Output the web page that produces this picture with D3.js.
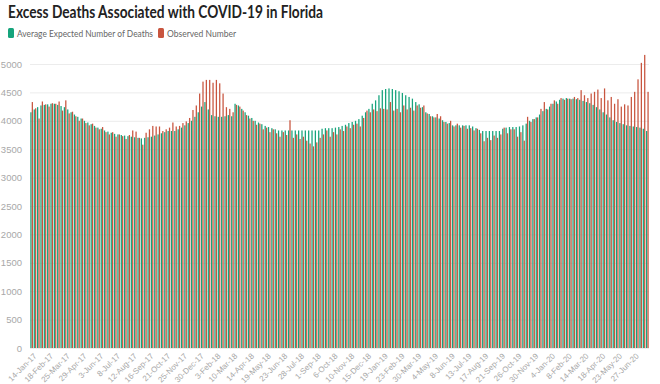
<!DOCTYPE html>
<html>
<head>
<meta charset="utf-8">
<script src="https://cdn.jsdelivr.net/npm/d3@7"></script>
<style>
  body { margin: 0; background: #fff; font-family: Lato, "Open Sans", sans-serif; }
  .axis text { fill: #a8a8a8; }
</style>
</head>
<body>
<svg id="chart" width="660" height="384"></svg>
<script>
// weekly counts, Florida, week ending 14-Jan-17 onwards
var startWeek = "2017-01-14";

var expected = [
  4150, 4200, 4240, 4270, 4280, 4290, 4300, 4300, 4280, 4260, 4240,
  4200, 4150, 4110, 4070, 4040, 4000, 3970, 3940, 3910, 3880, 3860, 3830, 3810, 3790, 3770, 3760, 3750, 3740, 3730, 3720,
  3710, 3700, 3690, 3700, 3710, 3720, 3740, 3760, 3780, 3800, 3820, 3820, 3820, 3850, 3880, 3920, 3960, 4000, 4070, 4150,
  4250, 4330, 4200, 4100, 4080, 4070, 4070, 4080, 4100,
  4080, 4300, 4270, 4210, 4150, 4090, 4050, 4000, 3970, 3940, 3910, 3890, 3870, 3850, 3830, 3830, 3830, 3830, 3830, 3830,
  3830, 3830, 3830, 3830, 3830, 3830, 3830,
  3860, 3870, 3870, 3870, 3880, 3890, 3910, 3930, 3960, 3980, 4000, 4030, 4090, 4150,
  4210, 4300, 4360, 4450, 4540, 4560, 4570, 4560, 4540, 4520, 4490, 4450, 4420, 4390, 4330, 4290, 4240, 4150, 4120,
  4080, 4060, 4040, 4010, 3980, 3960, 3920, 3920, 3920, 3920, 3920, 3920, 3900, 3870, 3840, 3820, 3820, 3820, 3820, 3820, 3820,
  3860, 3880, 3890, 3890, 3890, 3900, 3920, 3950, 4000, 4030, 4060, 4110, 4170, 4210, 4250, 4300, 4340, 4370, 4390, 4400,
  4390, 4390, 4380, 4370, 4350, 4330, 4310, 4280, 4240, 4200, 4150, 4110, 4060, 4010, 3980, 3960, 3940, 3920, 3910, 3900,
  3890, 3880, 3860, 3820
];

var observed = [
  4330, 4220, 4040, 4340, 4290, 4250, 4310, 4300, 4340, 4180, 4360,
  4130, 4160, 4080, 4000, 4040, 3960, 3920, 3950, 3880, 3850, 3890, 3800, 3760, 3800, 3720, 3760, 3730, 3680, 3750, 3830,
  3810, 3700, 3580, 3790, 3850, 3910, 3900, 3900, 3820, 3850, 3880, 3970, 3900, 3910, 3960, 3990, 4050, 4190, 4270, 4480,
  4690, 4720, 4720, 4670, 4720, 4660, 4480, 4240, 4210,
  4150, 4280, 4250, 4180, 4100, 4040, 4000, 3930, 3950, 3850, 3880, 3800, 3850, 3780, 3720, 3800, 3750, 4010, 3700, 3760,
  3680, 3720, 3650, 3600, 3550, 3620, 3700,
  3760, 3830, 3720, 3800, 3760, 3850, 3820, 3900, 3870, 3930, 3950, 3900, 4050, 4180,
  4150, 4200, 4170, 4220, 4210, 4200, 4330, 4180, 4210, 4150, 4270, 4200, 4230, 4180, 4270, 4230, 4270, 4130, 4080,
  4060, 4120, 4080, 3980, 3950, 4000, 3900, 3950, 3880, 3910, 3860, 3870, 3830, 3860, 3780, 3640, 3700, 3660, 3740, 3700, 3760,
  3880, 3780, 3850, 3850, 3720, 3800, 3650, 4070, 3980, 4030, 4060, 4210, 4330, 4200, 4300, 4360, 4300, 4400, 4370, 4390,
  4380, 4420, 4400, 4540, 4450, 4400, 4480, 4510, 4550, 4400, 4570, 4360, 4420, 4300, 4380, 4250, 4290, 4270, 4420, 4510,
  4730, 5020, 5160, 4510
];

var tickLabels = ["14-Jan-17", "18-Feb-17", "25-Mar-17", "29-Apr-17", "3-Jun-17", "8-Jul-17",
  "12-Aug-17", "16-Sep-17", "21-Oct-17", "25-Nov-17", "30-Dec-17", "3-Feb-18", "10-Mar-18",
  "14-Apr-18", "19-May-18", "23-Jun-18", "28-Jul-18", "1-Sep-18", "6-Oct-18", "10-Nov-18",
  "15-Dec-18", "19-Jan-19", "23-Feb-19", "30-Mar-19", "4-May-19", "8-Jun-19", "13-Jul-19",
  "17-Aug-19", "21-Sep-19", "26-Oct-19", "30-Nov-19", "4-Jan-20", "8-Feb-20", "14-Mar-20",
  "18-Apr-20", "23-May-20", "27-Jun-20"];

var yTicks = [0, 500, 1000, 1500, 2000, 2500, 3000, 3500, 4000, 4500, 5000];

var seriesNames = ["Average Expected Number of Deaths", "Observed Number"];
var seriesColors = ["#16a47c", "#c8553f"];
var legendWidths = [136, 69];

// build week list
var parseDate = d3.timeParse("%Y-%m-%d");
var fmt = d3.timeFormat("%-d-%b-%y");
var weeks = expected.map(function(v, i) { return fmt(d3.timeWeek.offset(parseDate(startWeek), i)); });
var rows = weeks.map(function(w, i) { return {week: w, vals: [expected[i], observed[i]]}; });

var svg = d3.select("#chart");
var margin = {top: 48, left: 30, right: 11, bottom: 36};
var width = 660 - margin.left - margin.right,
    height = 384 - margin.top - margin.bottom;

// title + legend
svg.append("text")
    .attr("x", 8).attr("y", 18)
    .attr("textLength", 315).attr("lengthAdjust", "spacingAndGlyphs")
    .style("font-size", "16.5px")
    .style("font-weight", "bold")
    .style("fill", "#222")
    .text("Excess Deaths Associated with COVID-19 in Florida");

var legend = svg.append("g").attr("transform", "translate(8,28)");
var lx = 0;
seriesNames.forEach(function(name, i) {
    var item = legend.append("g").attr("transform", "translate(" + lx + ",0)");
    item.append("rect").attr("width", 6).attr("height", 10).attr("rx", 1.5).attr("fill", seriesColors[i]);
    item.append("text").attr("x", 9).attr("y", 9)
        .attr("textLength", legendWidths[i]).attr("lengthAdjust", "spacingAndGlyphs")
        .style("font-size", "9px").style("fill", "#666").text(name);
    lx += 9 + legendWidths[i] + 5;
});

var g = svg.append("g").attr("transform", "translate(" + margin.left + "," + margin.top + ")");

var x = d3.scaleBand().domain(weeks).range([0, width]).paddingInner(0.12).paddingOuter(0.05);
var x1 = d3.scaleBand().domain([0, 1]).range([0, x.bandwidth()]).padding(0.1);
var y = d3.scaleLinear().domain([0, 5000]).range([height, height - 284]);

// grid
g.append("g").selectAll("line").data(yTicks).enter().append("line")
    .attr("x1", 0).attr("x2", width)
    .attr("y1", function(d) { return y(d) + 0.5; })
    .attr("y2", function(d) { return y(d) + 0.5; })
    .attr("stroke", "#ececec");

var yAxis = g.append("g").attr("class", "axis")
    .call(d3.axisLeft(y).tickValues(yTicks).tickSize(0).tickPadding(8).tickFormat(d3.format("d")));
yAxis.select(".domain").remove();
yAxis.selectAll("text").style("font-size", "9.5px");

// bars
var groups = g.append("g").selectAll("g").data(rows).enter().append("g")
    .attr("transform", function(d) { return "translate(" + x(d.week) + ",0)"; });
groups.selectAll("rect").data(function(d) { return d.vals; }).enter().append("rect")
    .attr("x", function(d, i) { return x1(i); })
    .attr("width", x1.bandwidth())
    .attr("y", function(d) { return y(d); })
    .attr("height", function(d) { return y(0) - y(d); })
    .attr("fill", function(d, i) { return seriesColors[i]; });

// x axis, every 5th week
var xAxis = g.append("g").attr("class", "axis")
    .attr("transform", "translate(0," + height + ")")
    .call(d3.axisBottom(x).tickValues(tickLabels).tickSize(0).tickPadding(0));
xAxis.select(".domain").remove();
xAxis.selectAll("text")
    .style("font-size", "8px")
    .style("text-anchor", "end")
    .attr("x", 0).attr("y", 0)
    .attr("dx", "-0.1em").attr("dy", "0.7em")
    .attr("transform", "translate(2,4) rotate(-45)");
</script>
</body>
</html>
